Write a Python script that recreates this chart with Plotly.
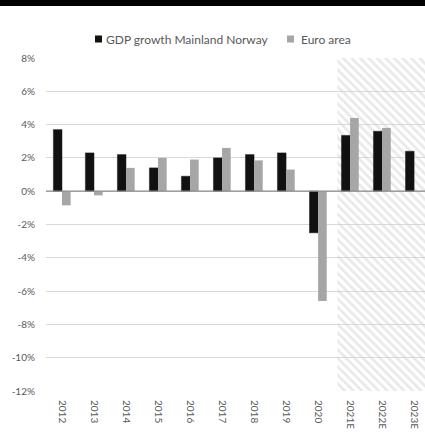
import plotly.graph_objects as go

# Annual GDP growth, %; the last three years are estimates
years = ["2012", "2013", "2014", "2015", "2016", "2017", "2018", "2019",
         "2020", "2021E", "2022E", "2023E"]
norway = [3.7, 2.3, 2.2, 1.4, 0.9, 2.0, 2.2, 2.3, -2.5, 3.35, 3.6, 2.4]
euro = [-0.85, -0.25, 1.4, 2.0, 1.9, 2.6, 1.85, 1.3, -6.6, 4.4, 3.8, None]

series_names = ["GDP growth Mainland Norway", "Euro area"]
series_colors = ["#111111", "#a6a6a6"]

y_ticks = [8, 6, 4, 2, 0, -2, -4, -6, -8, -10, -12]
y_tick_text = ["8%", "6%", "4%", "2%", "0%", "-2%", "-4%", "-6%", "-8%", "-10%", "-12%"]

FONT = "Lato"
TXT = "#595959"

x_pos = list(range(len(years)))
x_lo, x_hi = -0.5, 11.34
y_lo, y_hi = -12, 8
bar_w = 0.27

# figure geometry (pixels)
L, R, T, B = 46, 0, 58, 42
W, H = 425, 433
pw, ph = W - L - R, H - T - B


def px_x(px):
    return (px - L) / pw


def px_y(py):
    return 1 + (T - py) / ph


fig = go.Figure()

# hatched band behind the forecast years
est_start, est_end = 8.6, x_hi + 0.3
fig.add_trace(go.Bar(
    x=[(est_start + est_end) / 2], y=[y_hi - y_lo], base=[y_lo],
    width=[est_end - est_start],
    marker=dict(color="rgba(0,0,0,0)", line=dict(width=0),
                pattern=dict(shape="\\", fgcolor="#d4d4d4",
                             bgcolor="rgba(255,255,255,0)",
                             size=6, solidity=0.45)),
    hoverinfo="skip", showlegend=False,
))

fig.add_trace(go.Bar(
    x=x_pos, y=norway, name=series_names[0], width=bar_w, offset=-bar_w,
    marker=dict(color=series_colors[0], line=dict(color="#222222", width=0.5)),
    showlegend=False,
))
fig.add_trace(go.Bar(
    x=x_pos, y=euro, name=series_names[1], width=bar_w, offset=0,
    marker=dict(color=series_colors[1], line=dict(width=0)),
    showlegend=False,
))

# zero line on top
fig.add_shape(type="line", xref="paper", yref="y", x0=0, x1=1, y0=0, y1=0,
              line=dict(color="#8c8c8c", width=1.2), layer="above")

# black banner strip along the top edge
fig.add_shape(type="rect", xref="paper", yref="paper",
              x0=px_x(-2), x1=px_x(W + 2), y0=px_y(6), y1=px_y(-2),
              fillcolor="#000000", line=dict(width=0), layer="above")

# legend: square key followed by the series name
legend_y = 39
for key_x, text_x, name, color in zip([95, 287], [104, 299], series_names, series_colors):
    fig.add_shape(type="rect", xref="paper", yref="paper",
                  x0=px_x(key_x), x1=px_x(key_x + 7),
                  y0=px_y(legend_y + 3.5), y1=px_y(legend_y - 3.5),
                  fillcolor=color, line=dict(width=0))
    fig.add_annotation(xref="paper", yref="paper", x=px_x(text_x), y=px_y(legend_y),
                       xanchor="left", yanchor="middle", showarrow=False,
                       text=name, font=dict(size=12, color=TXT, family=FONT))

fig.update_layout(
    width=W, height=H,
    margin=dict(l=L, r=R, t=T, b=B, pad=0),
    paper_bgcolor="white", plot_bgcolor="white",
    barmode="overlay",
    font=dict(family=FONT, color=TXT, size=10),
    showlegend=False,
)
fig.update_xaxes(
    range=[x_lo, x_hi], tickmode="array", tickvals=x_pos, ticktext=years,
    tickangle=90, showgrid=False, zeroline=False, showline=False,
    ticks="", ticklabelstandoff=8,
    tickfont=dict(size=10, color=TXT, family=FONT),
)
fig.update_yaxes(
    range=[y_lo, y_hi], tickmode="array", tickvals=y_ticks, ticktext=y_tick_text,
    showgrid=True, gridcolor="#d9d9d9", gridwidth=1,
    zeroline=False, showline=False, ticks="", ticklabelstandoff=10,
    tickfont=dict(size=10, color=TXT, family=FONT),
)

fig.write_html("out.html")
